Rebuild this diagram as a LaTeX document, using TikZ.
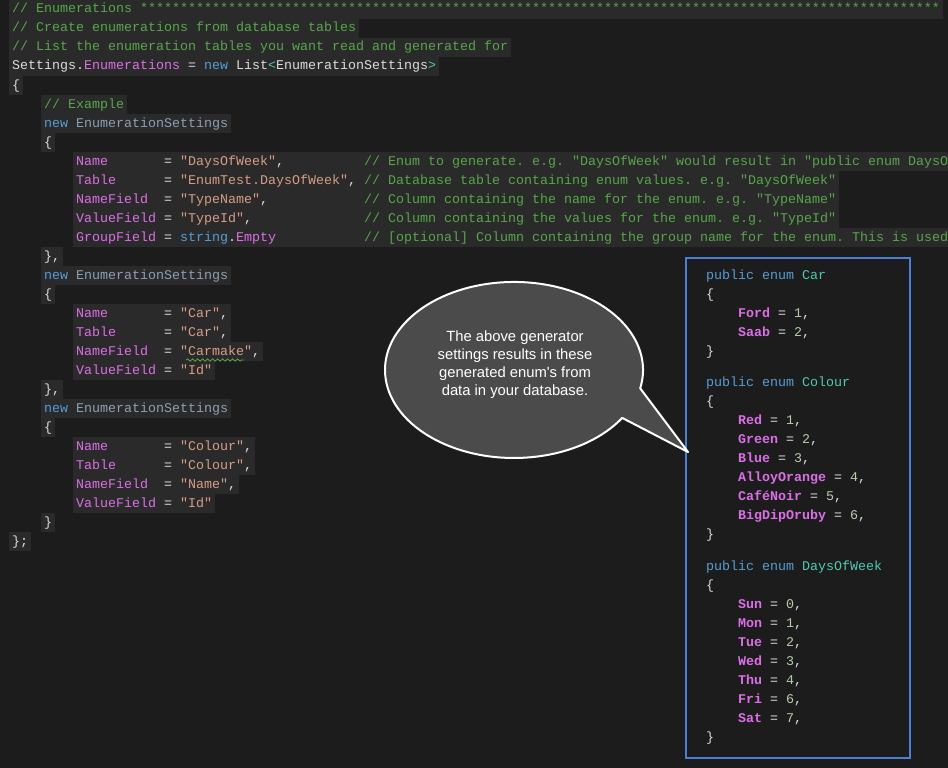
\documentclass[tikz,border=0pt]{standalone}
\usepackage{fontspec}
\setmonofont{Liberation Mono}
\newfontfamily\calloutfont{Liberation Sans}
\usetikzlibrary{decorations.pathmorphing}
\definecolor{codebg}{RGB}{28,28,28}
\definecolor{codehl}{RGB}{42,42,42}
\definecolor{codetxt}{RGB}{220,220,220}
\definecolor{codecm}{RGB}{87,166,74}
\definecolor{codepr}{RGB}{220,110,230}
\definecolor{codest}{RGB}{214,157,133}
\definecolor{codekw}{RGB}{86,156,214}
\definecolor{codety}{RGB}{140,160,180}
\definecolor{codeteal}{RGB}{78,201,176}
\definecolor{codenum}{RGB}{181,206,168}
\definecolor{codebox}{RGB}{74,127,216}
\definecolor{bubble}{RGB}{75,75,75}
\newcommand{\cm}[1]{\textcolor{codecm}{#1}}
\newcommand{\pr}[1]{\textcolor{codepr}{#1}}
\newcommand{\st}[1]{\textcolor{codest}{#1}}
\newcommand{\kw}[1]{\textcolor{codekw}{#1}}
\newcommand{\ty}[1]{\textcolor{codety}{#1}}
\newcommand{\tl}[1]{\textcolor{codeteal}{#1}}
\newcommand{\nm}[1]{\textcolor{codenum}{#1}}
\newcommand{\mb}[1]{\textcolor{codepr}{\bfseries #1}}
\newcommand{\pad}[1]{\hspace*{#1\dimexpr 8pt\relax}}
\begin{document}
\begin{tikzpicture}[x=1pt,y=-1pt
,codeline/.style={anchor=base west,inner xsep=3pt,inner ysep=2pt,text height=11pt,text depth=4pt,fill=codehl,text=codetxt,font=\ttfamily\fontsize{13.33}{19}\selectfont}
,enumline/.style={anchor=base west,inner sep=0pt,text=codetxt,font=\ttfamily\fontsize{13.33}{19}\selectfont}
]
\useasboundingbox (0,0) rectangle (948,768);
\fill[codebg] (0,0) rectangle (948,768);
\begin{scope}
\clip (0,0) rectangle (948,768);
% left code
\node[codeline] (l0) at (9,13) {\cm{// Enumerations ****************************************************************************************************}};
\node[codeline] (l1) at (9,32) {\cm{// Create enumerations from database tables}};
\node[codeline] (l2) at (9,51) {\cm{// List the enumeration tables you want read and generated for}};
\node[codeline] (l3) at (9,70) {Settings.\pr{Enumerations} = \kw{new} List\textcolor{codeteal}{<}EnumerationSettings\textcolor{codeteal}{>}};
\node[codeline] (l4) at (9,89) {\{};
\node[codeline] (l5) at (41,108) {\cm{// Example}};
\node[codeline] (l6) at (41,127) {\kw{new} \ty{EnumerationSettings}};
\node[codeline] (l7) at (41,146) {\{};
\node[codeline] (l8) at (73,165) {\pr{Name}\pad{7}= \st{"DaysOfWeek"},\pad{10}\cm{// Enum to generate. e.g. "DaysOfWeek" would result in "public enum DaysOfWeek"}};
\node[codeline] (l9) at (73,184) {\pr{Table}\pad{6}= \st{"EnumTest.DaysOfWeek"}, \cm{// Database table containing enum values. e.g. "DaysOfWeek"}};
\node[codeline] (l10) at (73,203) {\pr{NameField}\pad{2}= \st{"TypeName"},\pad{12}\cm{// Column containing the name for the enum. e.g. "TypeName"}};
\node[codeline] (l11) at (73,222) {\pr{ValueField} = \st{"TypeId"},\pad{14}\cm{// Column containing the values for the enum. e.g. "TypeId"}};
\node[codeline] (l12) at (73,241) {\pr{GroupField} = \kw{string}.\pr{Empty}\pad{11}\cm{// [optional] Column containing the group name for the enum. This is used}};
\node[codeline] (l13) at (41,260) {\},};
\node[codeline] (l14) at (41,279) {\kw{new} \ty{EnumerationSettings}};
\node[codeline] (l15) at (41,298) {\{};
\node[codeline] (l16) at (73,317) {\pr{Name}\pad{7}= \st{"Car"},};
\node[codeline] (l17) at (73,336) {\pr{Table}\pad{6}= \st{"Car"},};
\node[codeline] (l18) at (73,355) {\pr{NameField}\pad{2}= \st{"Carmake"},};
\node[codeline] (l19) at (73,374) {\pr{ValueField} = \st{"Id"}};
\node[codeline] (l20) at (41,393) {\},};
\node[codeline] (l21) at (41,412) {\kw{new} \ty{EnumerationSettings}};
\node[codeline] (l22) at (41,431) {\{};
\node[codeline] (l23) at (73,450) {\pr{Name}\pad{7}= \st{"Colour"},};
\node[codeline] (l24) at (73,469) {\pr{Table}\pad{6}= \st{"Colour"},};
\node[codeline] (l25) at (73,488) {\pr{NameField}\pad{2}= \st{"Name"},};
\node[codeline] (l26) at (73,507) {\pr{ValueField} = \st{"Id"}};
\node[codeline] (l27) at (41,526) {\}};
\node[codeline] (l28) at (9,545) {\};};
\end{scope}
% squiggle under Carmake
\draw[codecm,line width=0.8pt,decorate,decoration={snake,amplitude=1.2pt,segment length=5pt}] (186,360) -- (244,360);
% generated enums
\draw[codebox,line width=2pt] (686,258) rectangle (910,758);
\node[enumline] (r0) at (706,279) {\kw{public enum} \tl{Car}};
\node[enumline] (r1) at (706,298) {\{};
\node[enumline] (r2) at (706,317) {\pad{4}\mb{Ford} = \nm{1},};
\node[enumline] (r3) at (706,336) {\pad{4}\mb{Saab} = \nm{2},};
\node[enumline] (r4) at (706,355) {\}};
\node[enumline] (r5) at (706,386) {\kw{public enum} \tl{Colour}};
\node[enumline] (r6) at (706,405) {\{};
\node[enumline] (r7) at (706,424) {\pad{4}\mb{Red} = \nm{1},};
\node[enumline] (r8) at (706,443) {\pad{4}\mb{Green} = \nm{2},};
\node[enumline] (r9) at (706,462) {\pad{4}\mb{Blue} = \nm{3},};
\node[enumline] (r10) at (706,481) {\pad{4}\mb{AlloyOrange} = \nm{4},};
\node[enumline] (r11) at (706,500) {\pad{4}\mb{CaféNoir} = \nm{5},};
\node[enumline] (r12) at (706,519) {\pad{4}\mb{BigDipOruby} = \nm{6},};
\node[enumline] (r13) at (706,538) {\}};
\node[enumline] (r14) at (706,570) {\kw{public enum} \tl{DaysOfWeek}};
\node[enumline] (r15) at (706,589) {\{};
\node[enumline] (r16) at (706,608) {\pad{4}\mb{Sun} = \nm{0},};
\node[enumline] (r17) at (706,627) {\pad{4}\mb{Mon} = \nm{1},};
\node[enumline] (r18) at (706,646) {\pad{4}\mb{Tue} = \nm{2},};
\node[enumline] (r19) at (706,665) {\pad{4}\mb{Wed} = \nm{3},};
\node[enumline] (r20) at (706,684) {\pad{4}\mb{Thu} = \nm{4},};
\node[enumline] (r21) at (706,703) {\pad{4}\mb{Fri} = \nm{6},};
\node[enumline] (r22) at (706,722) {\pad{4}\mb{Sat} = \nm{7},};
\node[enumline] (r23) at (706,741) {\}};
% callout
\coordinate (tip) at (688,452);
\draw[white,fill=bubble,line width=2pt,line join=round] (622.2,417.9) arc[start angle=33,end angle=372,x radius=129,y radius=88] -- (tip) -- cycle;
\node[align=center,text=white,font=\calloutfont\fontsize{14.8}{18}\selectfont] (callout) at (515,365) {The above generator\\settings results in these\\generated enum's from\\data in your database.};
\end{tikzpicture}
\end{document}
